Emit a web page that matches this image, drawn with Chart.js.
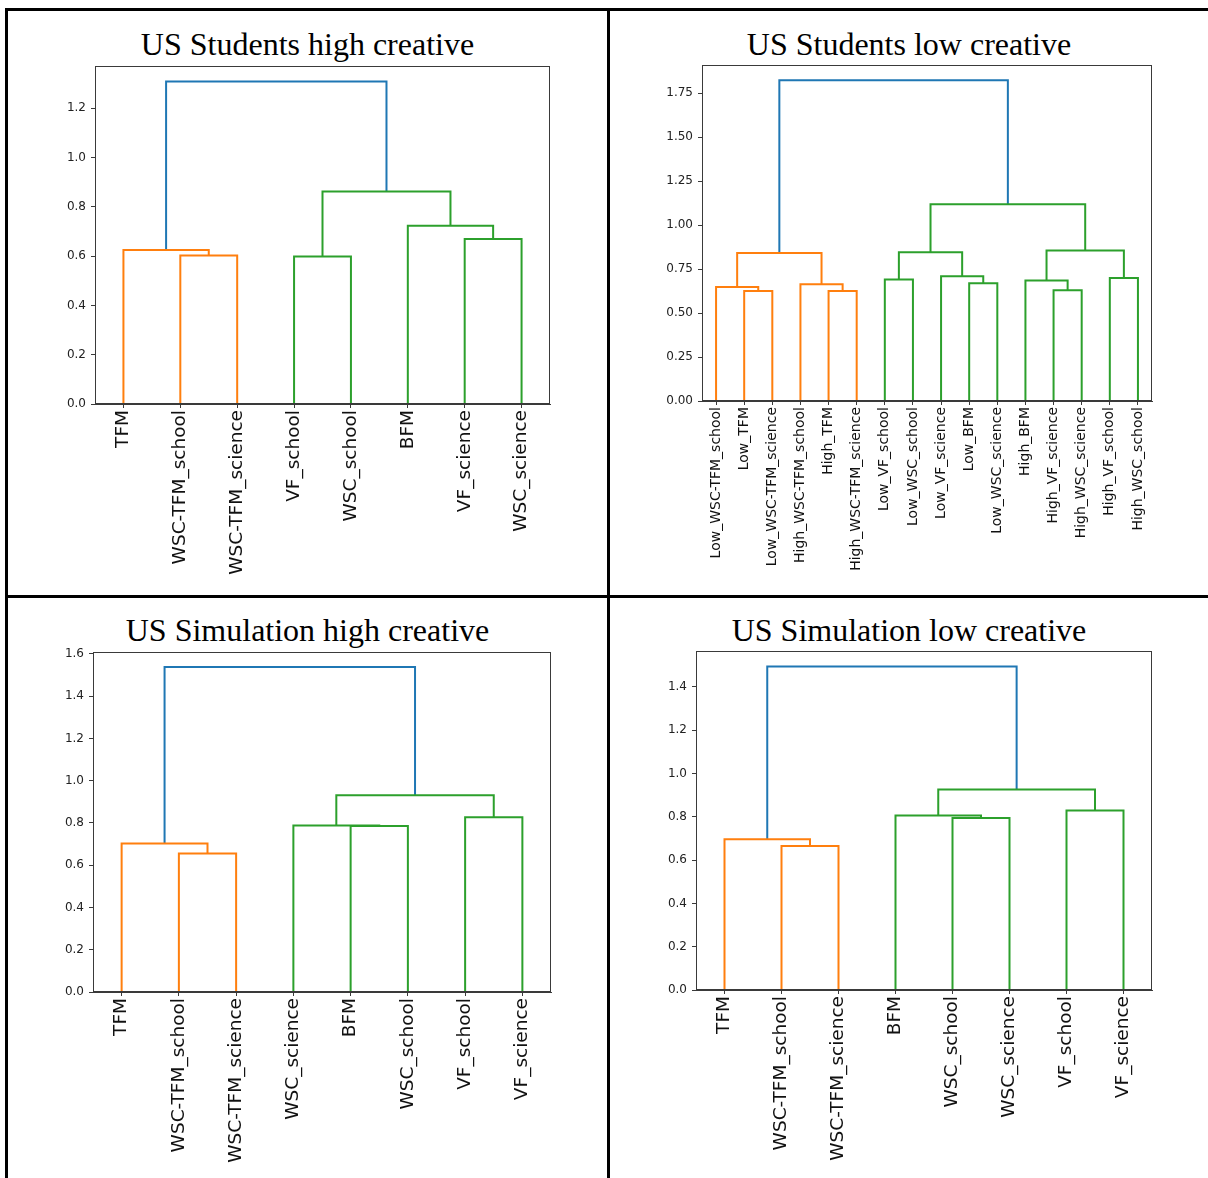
<!DOCTYPE html>
<html lang="en">
<head>
    <meta charset="UTF-8">
    <title>US dendrograms</title>
    <style>
        body { margin: 0; background: #fff; }
        #page { position: relative; width: 1208px; height: 1178px; overflow: hidden; }
        .rule { position: absolute; background: #000; }
        .title {
            position: absolute;
            font-family: "Liberation Serif", "Times New Roman", serif;
            font-size: 32px;
            line-height: 32px;
            text-align: center;
            color: #000;
            white-space: nowrap;
        }
        canvas { position: absolute; }
    </style>
</head>
<body>
<div id="page">
    <div class="rule" style="left:5px; top:8px; width:1203px; height:3px;"></div>
    <div class="rule" style="left:5px; top:8px; width:3px; height:1170px;"></div>
    <div class="rule" style="left:607px; top:8px; width:3px; height:1170px;"></div>
    <div class="rule" style="left:5px; top:595px; width:1203px; height:3px;"></div>

    <div class="title" style="left:8px; width:599px; top:28px;">US Students high creative</div>
    <div class="title" style="left:610px; width:598px; top:28px;">US Students low creative</div>
    <div class="title" style="left:8px; width:599px; top:614px;">US Simulation high creative</div>
    <div class="title" style="left:610px; width:598px; top:614px;">US Simulation low creative</div>

    <canvas id="c1" width="599" height="583" style="left:8px; top:12px;"></canvas>
    <canvas id="c2" width="598" height="583" style="left:610px; top:12px;"></canvas>
    <canvas id="c3" width="599" height="580" style="left:8px; top:598px;"></canvas>
    <canvas id="c4" width="598" height="580" style="left:610px; top:598px;"></canvas>
</div>

<script src="https://cdn.jsdelivr.net/npm/chart.js"></script>
<script>
    // leaf labels, left to right
    const studentsHighLabels = ['TFM', 'WSC-TFM_school', 'WSC-TFM_science', 'VF_school', 'WSC_school', 'BFM', 'VF_science', 'WSC_science'];
    const studentsLowLabels = ['Low_WSC-TFM_school', 'Low_TFM', 'Low_WSC-TFM_science', 'High_WSC-TFM_school', 'High_TFM', 'High_WSC-TFM_science',
        'Low_VF_school', 'Low_WSC_school', 'Low_VF_science', 'Low_BFM', 'Low_WSC_science',
        'High_BFM', 'High_VF_science', 'High_WSC_science', 'High_VF_school', 'High_WSC_school'];
    const simHighLabels = ['TFM', 'WSC-TFM_school', 'WSC-TFM_science', 'WSC_science', 'BFM', 'WSC_school', 'VF_school', 'VF_science'];
    const simLowLabels = ['TFM', 'WSC-TFM_school', 'WSC-TFM_science', 'BFM', 'WSC_school', 'WSC_science', 'VF_school', 'VF_science'];

    // merges: [child a, child b, height, colour]; ids < n are leaves, n+k is the k-th merge
    const studentsHighMerges = [
        [1, 2, 0.603, 'C1'], [0, 8, 0.625, 'C1'],
        [3, 4, 0.599, 'C2'], [6, 7, 0.670, 'C2'], [5, 11, 0.724, 'C2'], [10, 12, 0.863, 'C2'],
        [9, 13, 1.309, 'C0']
    ];
    const studentsLowMerges = [
        [1, 2, 0.626, 'C1'], [0, 16, 0.649, 'C1'], [4, 5, 0.625, 'C1'], [3, 18, 0.664, 'C1'], [17, 19, 0.842, 'C1'],
        [6, 7, 0.691, 'C2'], [9, 10, 0.670, 'C2'], [8, 22, 0.710, 'C2'], [21, 23, 0.846, 'C2'],
        [12, 13, 0.630, 'C2'], [11, 25, 0.685, 'C2'], [14, 15, 0.700, 'C2'], [26, 27, 0.856, 'C2'],
        [24, 28, 1.119, 'C2'], [20, 29, 1.824, 'C0']
    ];
    const simHighMerges = [
        [1, 2, 0.656, 'C1'], [0, 8, 0.703, 'C1'],
        [4, 5, 0.786, 'C2'], [3, 10, 0.788, 'C2'], [6, 7, 0.827, 'C2'], [11, 12, 0.931, 'C2'],
        [9, 13, 1.538, 'C0']
    ];
    const simLowMerges = [
        [1, 2, 0.665, 'C1'], [0, 8, 0.696, 'C1'],
        [4, 5, 0.795, 'C2'], [3, 10, 0.806, 'C2'], [6, 7, 0.829, 'C2'], [11, 12, 0.926, 'C2'],
        [9, 13, 1.494, 'C0']
    ];

    // y axis limits and tick values
    const studentsHighYMax = 1.372;
    const studentsLowYMax = 1.911;
    const simHighYMax = 1.609;
    const simLowYMax = 1.566;
    const studentsHighYTicks = [0, 0.2, 0.4, 0.6, 0.8, 1.0, 1.2];
    const studentsLowYTicks = [0, 0.25, 0.5, 0.75, 1.0, 1.25, 1.5, 1.75];
    const simHighYTicks = [0, 0.2, 0.4, 0.6, 0.8, 1.0, 1.2, 1.4, 1.6];
    const simLowYTicks = [0, 0.2, 0.4, 0.6, 0.8, 1.0, 1.2, 1.4];

    const palette = { C0: '#1f77b4', C1: '#ff7f0e', C2: '#2ca02c' };

    // draws the full box round the plot area
    const framePlugin = {
        id: 'frame',
        afterDraw(chart) {
            const a = chart.chartArea;
            const ctx = chart.ctx;
            ctx.save();
            ctx.strokeStyle = '#3a3a3a';
            ctx.lineWidth = 1;
            ctx.strokeRect(Math.round(a.left) + 0.5, Math.round(a.top) + 0.5,
                Math.round(a.right - a.left) - 1, Math.round(a.bottom - a.top) - 1);
            ctx.restore();
        }
    };

    function linkDatasets(labels, merges) {
        const xs = labels.map((_, i) => 10 * i + 5);
        const ys = labels.map(() => 0);
        const sets = [];
        merges.forEach(m => {
            const [a, b, h, c] = m;
            sets.push({
                data: [{ x: xs[a], y: ys[a] }, { x: xs[a], y: h }, { x: xs[b], y: h }, { x: xs[b], y: ys[b] }],
                borderColor: palette[c],
                borderWidth: 2,
                pointRadius: 0,
                fill: false,
                tension: 0
            });
            xs.push((xs[a] + xs[b]) / 2);
            ys.push(h);
        });
        return sets;
    }

    function drawDendrogram(id, labels, merges, yMax, yTicks, box) {
        const digits = yTicks.some(v => Math.round(v * 100) % 10 !== 0) ? 2 : 1;
        new Chart(document.getElementById(id), {
            type: 'line',
            data: { datasets: linkDatasets(labels, merges) },
            plugins: [framePlugin],
            options: {
                responsive: false,
                animation: false,
                layout: { padding: { top: box.top, right: box.right, left: 0, bottom: 0 } },
                plugins: { legend: { display: false }, tooltip: { enabled: false } },
                scales: {
                    x: {
                        type: 'linear',
                        min: 0,
                        max: labels.length * 10,
                        afterBuildTicks: s => { s.ticks = labels.map((_, i) => ({ value: 10 * i + 5 })); },
                        afterFit: s => { s.height = box.xh; },
                        grid: { drawOnChartArea: false, drawTicks: true, tickLength: 4, color: '#3a3a3a' },
                        border: { display: true, color: '#3a3a3a' },
                        ticks: {
                            autoSkip: false,
                            minRotation: 90,
                            maxRotation: 90,
                            padding: 2,
                            color: '#111',
                            font: { family: 'DejaVu Sans', size: box.xFont },
                            callback: v => labels[Math.round((v - 5) / 10)]
                        }
                    },
                    y: {
                        min: 0,
                        max: yMax,
                        afterBuildTicks: s => { s.ticks = yTicks.map(v => ({ value: v })); },
                        afterFit: s => { s.width = box.yw; },
                        grid: { drawOnChartArea: false, drawTicks: true, tickLength: 4, color: '#3a3a3a' },
                        border: { display: true, color: '#3a3a3a' },
                        ticks: {
                            padding: 5,
                            color: '#222',
                            font: { family: 'DejaVu Sans', size: 12 },
                            callback: v => v.toFixed(digits)
                        }
                    }
                }
            }
        });
    }

    drawDendrogram('c1', studentsHighLabels, studentsHighMerges, studentsHighYMax, studentsHighYTicks,
        { top: 54, right: 57, yw: 87, xh: 191, xFont: 18.5 });
    drawDendrogram('c2', studentsLowLabels, studentsLowMerges, studentsLowYMax, studentsLowYTicks,
        { top: 53, right: 56, yw: 92, xh: 194, xFont: 14 });
    drawDendrogram('c3', simHighLabels, simHighMerges, simHighYMax, simHighYTicks,
        { top: 54, right: 56, yw: 85, xh: 186, xFont: 18.5 });
    drawDendrogram('c4', simLowLabels, simLowMerges, simLowYMax, simLowYTicks,
        { top: 53, right: 56, yw: 86, xh: 188, xFont: 18.5 });
</script>
</body>
</html>
